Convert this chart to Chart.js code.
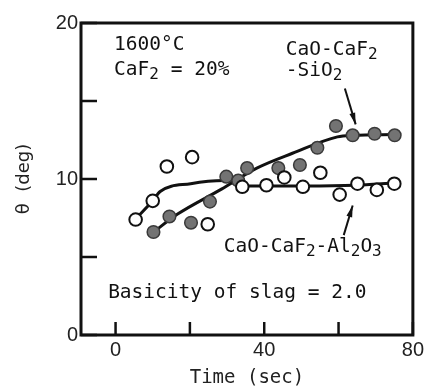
<!DOCTYPE html>
<html>
<head>
<meta charset="utf-8">
<script src="https://cdn.jsdelivr.net/npm/chart.js@4.4.0/dist/chart.umd.min.js"></script>
<style>
  html, body { margin: 0; padding: 0; background: #fff; }
</style>
</head>
<body>
<canvas id="chart" width="427" height="389"></canvas>
<script>
// CaO-CaF2-Al2O3 slag (open circles)
const alTime  = [5.4, 10.0, 13.8, 20.6, 24.8, 34.1, 40.6, 45.4, 50.4, 55.1, 60.3, 65.1, 70.3, 75.0];
const alTheta = [7.4, 8.6, 10.8, 11.4, 7.1, 9.5, 9.6, 10.1, 9.5, 10.4, 9.0, 9.7, 9.3, 9.7];

// CaO-CaF2-SiO2 slag (filled circles)
const siTime  = [10.2, 14.5, 20.3, 25.4, 29.8, 33.0, 35.4, 43.8, 49.6, 54.3, 59.3, 63.8, 69.7, 75.1];
const siTheta = [6.6, 7.6, 7.2, 8.55, 10.15, 9.9, 10.7, 10.7, 10.9, 12.0, 13.4, 12.8, 12.9, 12.8];

// hand drawn trend curves
const alCurveTime  = [5.4, 10.0, 12.0, 20.2, 29.3, 34.1, 51.0, 64.5, 75.0];
const alCurveTheta = [7.45, 8.6, 9.2, 9.7, 9.9, 9.55, 9.55, 9.6, 9.75];
const siCurveTime  = [10.2, 16.7, 28.5, 38.0, 47.6, 59.7, 64.0, 75.2];
const siCurveTheta = [6.6, 7.75, 9.35, 10.7, 11.65, 12.7, 12.8, 12.85];

// axes
const xTicks = [0, 20, 40, 60, 80];
const xLabels = [0, 40, 80];
const yTicks = [0, 5, 10, 15, 20];
const yLabels = [0, 10, 20];

const pts = (xs, ys) => xs.map((x, i) => ({ x: x, y: ys[i] }));

const MONO = '"DejaVu Sans Mono", monospace';

// text placed in data units: [x, y, parts]
const notes = [
  [-0.4, 18.3, [['1600°C']]],
  [-0.4, 16.65, [['CaF'], ['2', 1], [' = 20%']]],
  [45.8, 17.95, [['CaO-CaF'], ['2', 1]]],
  [45.8, 16.6, [['-SiO'], ['2', 1]]],
  [29.1, 5.3, [['CaO-CaF'], ['2', 1], ['-Al'], ['2', 1], ['O'], ['3', 1]]],
  [-2.0, 2.37, [['Basicity of slag = 2.0']]]
];
const arrows = [
  [61.7, 15.8, 64.6, 13.5],
  [61.4, 6.4, 63.8, 8.3]
];

const framePlugin = {
  id: 'frame',
  afterDatasetsDraw(chart) {
    const { ctx, chartArea: a, scales: { x, y } } = chart;
    ctx.save();
    ctx.strokeStyle = '#111';
    ctx.fillStyle = '#111';

    // inward ticks
    ctx.lineWidth = 2.5;
    y.ticks.forEach(t => {
      const py = y.getPixelForValue(t.value);
      ctx.beginPath(); ctx.moveTo(a.left, py); ctx.lineTo(a.left + 16, py); ctx.stroke();
    });
    x.ticks.forEach(t => {
      const px = x.getPixelForValue(t.value);
      ctx.beginPath(); ctx.moveTo(px, a.bottom); ctx.lineTo(px, a.bottom - 13); ctx.stroke();
    });

    // frame
    ctx.lineWidth = 3;
    ctx.strokeRect(a.left, a.top, a.right - a.left, a.bottom - a.top);

    // labels
    ctx.textBaseline = 'alphabetic';
    ctx.textAlign = 'left';
    notes.forEach(([nx, ny, parts]) => {
      let px = x.getPixelForValue(nx);
      const py = y.getPixelForValue(ny);
      parts.forEach(([txt, sub]) => {
        ctx.font = sub ? '16px ' + MONO : '19.5px ' + MONO;
        ctx.fillText(txt, px, sub ? py + 4 : py);
        px += ctx.measureText(txt).width;
      });
    });

    // arrows
    ctx.lineWidth = 2;
    arrows.forEach(([x1, y1, x2, y2]) => {
      const ax = x.getPixelForValue(x1), ay = y.getPixelForValue(y1);
      const bx = x.getPixelForValue(x2), by = y.getPixelForValue(y2);
      ctx.beginPath(); ctx.moveTo(ax, ay); ctx.lineTo(bx, by); ctx.stroke();
      const ang = Math.atan2(by - ay, bx - ax);
      ctx.beginPath();
      ctx.moveTo(bx, by);
      ctx.lineTo(bx - 12 * Math.cos(ang - 0.25), by - 12 * Math.sin(ang - 0.25));
      ctx.lineTo(bx - 12 * Math.cos(ang + 0.25), by - 12 * Math.sin(ang + 0.25));
      ctx.closePath();
      ctx.fill();
    });
    ctx.restore();
  }
};

new Chart(document.getElementById('chart'), {
  type: 'scatter',
  data: {
    datasets: [
      {
        label: 'CaO-CaF2-Al2O3',
        data: pts(alTime, alTheta),
        pointRadius: 6.3,
        pointBackgroundColor: '#fff',
        pointBorderColor: '#111',
        pointBorderWidth: 2,
        order: 1
      },
      {
        label: 'CaO-CaF2-SiO2',
        data: pts(siTime, siTheta),
        pointRadius: 6.3,
        pointBackgroundColor: '#737373',
        pointBorderColor: '#3a3a3a',
        pointBorderWidth: 1.5,
        order: 1
      },
      {
        label: 'Al2O3 trend',
        data: pts(alCurveTime, alCurveTheta),
        showLine: true,
        borderColor: '#111',
        borderWidth: 3,
        pointRadius: 0,
        cubicInterpolationMode: 'monotone',
        order: 2
      },
      {
        label: 'SiO2 trend',
        data: pts(siCurveTime, siCurveTheta),
        showLine: true,
        borderColor: '#111',
        borderWidth: 3,
        pointRadius: 0,
        cubicInterpolationMode: 'monotone',
        order: 2
      }
    ]
  },
  options: {
    responsive: false,
    animation: false,
    events: [],
    layout: { autoPadding: false, padding: { top: 23, right: 4, bottom: 0, left: 0 } },
    plugins: { legend: { display: false }, tooltip: { enabled: false } },
    scales: {
      x: {
        min: -9.3,
        max: 80,
        afterBuildTicks: s => { s.ticks = xTicks.map(v => ({ value: v })); },
        afterFit: s => { s.height = 54; },
        grid: { display: false, drawTicks: false },
        border: { display: false },
        ticks: {
          padding: 3,
          maxRotation: 0,
          autoSkip: false,
          color: '#222',
          font: { family: '"Liberation Sans", Arial, sans-serif', size: 20 },
          callback: v => xLabels.includes(v) ? String(v) : ''
        },
        title: {
          display: true,
          text: 'Time (sec)',
          color: '#222',
          padding: { top: 0, bottom: 0 },
          font: { family: MONO, size: 19 }
        }
      },
      y: {
        min: 0,
        max: 20,
        afterBuildTicks: s => { s.ticks = yTicks.map(v => ({ value: v })); },
        afterFit: s => { s.width = 81; },
        grid: { display: false, drawTicks: false },
        border: { display: false },
        ticks: {
          padding: 3,
          autoSkip: false,
          color: '#222',
          font: { family: '"Liberation Sans", Arial, sans-serif', size: 20 },
          callback: v => yLabels.includes(v) ? String(v) : ''
        },
        title: {
          display: true,
          text: 'θ  (deg)',
          color: '#222',
          padding: { top: 14, bottom: 0 },
          font: { family: '"DejaVu Sans", sans-serif', size: 18 }
        }
      }
    }
  },
  plugins: [framePlugin]
});
</script>
</body>
</html>
